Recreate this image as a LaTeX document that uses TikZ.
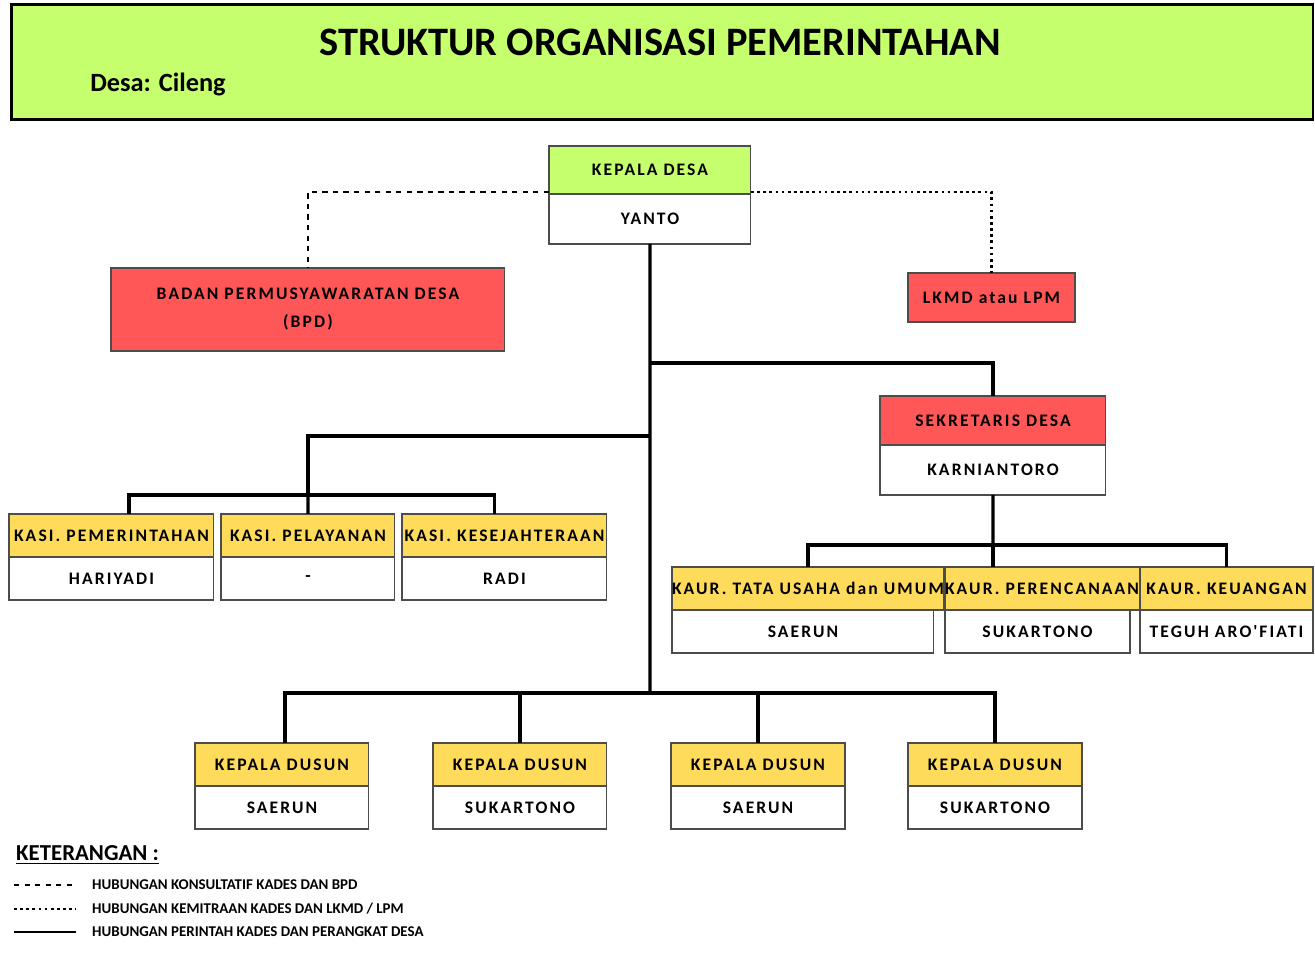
\documentclass[tikz,border=0pt]{standalone}
\usepackage{fontspec}
\setmainfont{Carlito}
\newfontfamily\boxfont{Carlito}[LetterSpace=12]
\usetikzlibrary{positioning}
\definecolor{hijau}{HTML}{C6FF6E}
\definecolor{merah}{HTML}{FF5757}
\definecolor{kuning}{HTML}{FFDB5C}
\tikzset{
  box/.style={draw=black!70, line width=0.6pt, anchor=north west, outer sep=0pt, inner sep=0pt, align=center, font=\boxfont\bfseries\fontsize{10}{16}\selectfont},
  hd/.style={box, minimum height=0.86cm},
  nm/.style={box, fill=white, minimum height=0.86cm},
  cmd/.style={line width=1.8pt},
  leg/.style={anchor=west, font=\bfseries\fontsize{8.5}{10}\selectfont}
}
\begin{document}
\begin{tikzpicture}[x=0.02cm, y=-0.02cm]
  \useasboundingbox (0,0) rectangle (1315,955);
  %title
  \node[draw, line width=1.5pt, fill=hijau, anchor=north west, minimum width=26.04cm, minimum height=2.3cm] (judul) at (10,3) {};
  \node[font=\bfseries\fontsize{23}{26}\selectfont] (jtext) at (660,42) {STRUKTUR ORGANISASI PEMERINTAHAN};
  \node[font=\bfseries\fontsize{15}{18}\selectfont] (desa) at (158,84) {Desa: Cileng};

  %kepala desa
  \node[hd, fill=hijau, minimum width=4.04cm, minimum height=0.96cm] (kadest) at (549,146) {KEPALA DESA};
  \node[nm, minimum width=4.04cm, minimum height=1cm] (kadesb) at (549,194) {YANTO};
  \node[hd, fill=merah, minimum width=7.88cm, minimum height=1.66cm] (bpd) at (111,268) {BADAN PERMUSYAWARATAN DESA\\(BPD)};
  \node[hd, fill=merah, minimum width=3.34cm, minimum height=0.98cm] (lkmd) at (908,273) {LKMD atau LPM};

  %sekretaris
  \node[hd, fill=merah, minimum width=4.52cm, minimum height=0.98cm] (sekt) at (880,396) {SEKRETARIS DESA};
  \node[nm, minimum width=4.52cm, minimum height=1cm] (sekb) at (880,445) {KARNIANTORO};

  %kasi
  \node[hd, fill=kuning, minimum width=4.1cm] (kasi1) at (9,514) {KASI. PEMERINTAHAN};
  \node[nm, minimum width=4.1cm] (kasi1b) at (9,557) {HARIYADI};
  \node[hd, fill=kuning, minimum width=3.48cm] (kasi2) at (221,514) {KASI. PELAYANAN};
  \node[nm, minimum width=3.48cm] (kasi2b) at (221,557) {-};
  \node[hd, fill=kuning, minimum width=4.1cm] (kasi3) at (402,514) {KASI. KESEJAHTERAAN};
  \node[nm, minimum width=4.1cm] (kasi3b) at (402,557) {RADI};

  %kaur
  \node[hd, fill=kuning, minimum width=5.24cm] (kaur1) at (672,567) {KAUR. TATA USAHA dan UMUM};
  \node[nm, minimum width=5.24cm] (kaur1b) at (672,610) {SAERUN};
  \node[hd, fill=kuning, minimum width=3.7cm] (kaur2) at (945,567) {KAUR. PERENCANAAN};
  \node[nm, minimum width=3.7cm] (kaur2b) at (945,610) {SUKARTONO};
  \node[hd, fill=kuning, minimum width=3.46cm] (kaur3) at (1140,567) {KAUR. KEUANGAN};
  \node[nm, minimum width=3.46cm] (kaur3b) at (1140,610) {TEGUH ARO'FIATI};

  %kepala dusun
  \node[hd, fill=kuning, minimum width=3.48cm] (dus1) at (195,743) {KEPALA DUSUN};
  \node[nm, minimum width=3.48cm] (dus1b) at (195,786) {SAERUN};
  \node[hd, fill=kuning, minimum width=3.48cm] (dus2) at (433,743) {KEPALA DUSUN};
  \node[nm, minimum width=3.48cm] (dus2b) at (433,786) {SUKARTONO};
  \node[hd, fill=kuning, minimum width=3.48cm] (dus3) at (671,743) {KEPALA DUSUN};
  \node[nm, minimum width=3.48cm] (dus3b) at (671,786) {SAERUN};
  \node[hd, fill=kuning, minimum width=3.48cm] (dus4) at (908,743) {KEPALA DUSUN};
  \node[nm, minimum width=3.48cm] (dus4b) at (908,786) {SUKARTONO};

  %connectors
  \coordinate (j1) at (650,363);
  \coordinate (j2) at (650,436);
  \coordinate (j3) at (308,495);
  \coordinate (j4) at (650,693);
  \coordinate (j5) at (993,545);
  \draw[cmd] (kadesb.south) -- (j4);
  \draw[cmd] (j1) -| (sekt.north);
  \draw[cmd] (j2) -| (j3);
  \draw[cmd] ([xshift=0.35cm]kasi1.north) |- (j3) -| ([xshift=-0.2cm]kasi3.north);
  \draw[cmd] (j3) -- (kasi2.north);
  \draw[cmd] ([xshift=0.06cm]dus1.north) |- (j4) -| (dus4.north);
  \draw[cmd] (dus2.north) -- (dus2.north |- j4);
  \draw[cmd] (dus3.north) -- (dus3.north |- j4);
  \draw[cmd] (sekb.south) -- (j5);
  \draw[cmd] (kaur1.north) |- (j5) -| (kaur3.north);
  \draw[cmd] (j5) -- (j5 |- kaur2.north);
  \draw[line width=1.5pt, dashed] ([yshift=0.04cm]kadest.south west) -| (bpd.north);
  \draw[line width=1.5pt, dotted] ([yshift=0.04cm]kadest.south east) -| (lkmd.north);

  %keterangan
  \node[anchor=west, font=\bfseries\fontsize{13}{15}\selectfont] (ket) at (10,855) {\underline{KETERANGAN :}};
  \coordinate (a1) at (14,885); \coordinate (b1) at (76,885);
  \coordinate (a2) at (14,909); \coordinate (b2) at (76,909);
  \coordinate (a3) at (14,932); \coordinate (b3) at (76,932);
  \draw[line width=1.5pt, dashed] (a1) -- (b1);
  \draw[line width=1.5pt, dotted] (a2) -- (b2);
  \draw[line width=1.5pt] (a3) -- (b3);
  \node[leg] (l1) at (86,885) {HUBUNGAN KONSULTATIF KADES DAN BPD};
  \node[leg] (l2) at (86,909) {HUBUNGAN KEMITRAAN KADES DAN LKMD / LPM};
  \node[leg] (l3) at (86,932) {HUBUNGAN PERINTAH KADES DAN PERANGKAT DESA};
\end{tikzpicture}
\end{document}
